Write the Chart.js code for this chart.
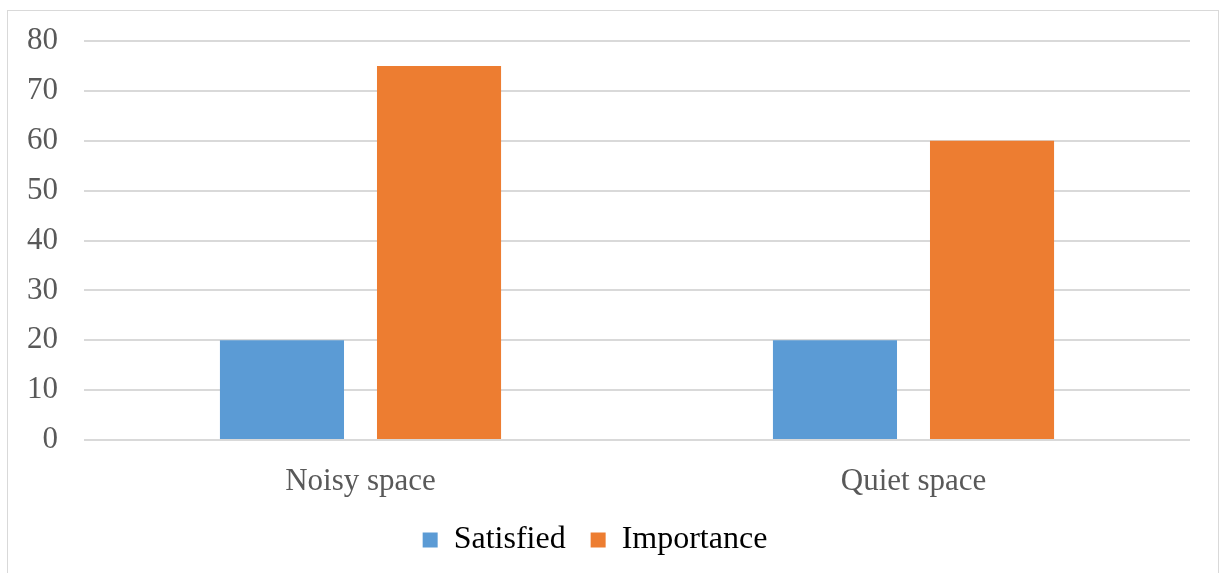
<!DOCTYPE html>
<html>
<head>
<meta charset="utf-8">
<script src="https://cdn.jsdelivr.net/npm/chart.js@4.4.1/dist/chart.umd.min.js"></script>
<style>
  html, body { margin: 0; padding: 0; background: #fff; }
  #wrap { position: relative; width: 1219px; height: 573px; overflow: hidden; }
  #frame { position: absolute; left: 7px; top: 10px; width: 1210px; height: 600px; border: 1px solid #d9d9d9; }
  #chart { position: absolute; left: 0; top: 0; }
</style>
</head>
<body>
<div id="wrap">
  <div id="frame"></div>
  <canvas id="chart" width="1219" height="573"></canvas>
</div>
<script>
const categories = ['Noisy space', 'Quiet space'];
const satisfied = [20, 20];
const importance = [75, 60];
const yTicks = [0, 10, 20, 30, 40, 50, 60, 70, 80];

const serif = '"Liberation Serif", "Times New Roman", serif';

const ctx = document.getElementById('chart').getContext('2d');
new Chart(ctx, {
  type: 'bar',
  data: {
    labels: categories,
    datasets: [
      { label: 'Satisfied', data: satisfied, backgroundColor: '#5B9BD5' },
      { label: 'Importance', data: importance, backgroundColor: '#ED7D31' }
    ]
  },
  options: {
    responsive: false,
    animation: false,
    categoryPercentage: 0.568,
    barPercentage: 0.79,
    layout: { padding: { top: 41, right: 29, left: 0, bottom: 7 } },
    plugins: {
      tooltip: { enabled: false },
      legend: {
        position: 'bottom',
        labels: {
          color: '#000',
          font: { family: serif, size: 32, lineHeight: 1.0 },
          boxWidth: 15,
          boxHeight: 15,
          padding: 25
        }
      }
    },
    scales: {
      x: {
        grid: { display: false },
        border: { display: false },
        afterFit: scale => { scale.height = 59; },
        ticks: {
          color: '#595959',
          font: { family: serif, size: 31 },
          padding: 15
        }
      },
      y: {
        min: 0,
        max: 80,
        afterBuildTicks: scale => { scale.ticks = yTicks.map(v => ({ value: v })); },
        // fixed axis width; top/bottom spacing comes from layout padding only
        afterFit: scale => {
          scale.width = 84;
          scale.paddingTop = 0;
          scale.paddingBottom = 0;
        },
        grid: { color: '#d9d9d9', lineWidth: 2, drawTicks: false },
        border: { display: false },
        ticks: {
          color: '#595959',
          font: { family: serif, size: 31 },
          padding: 26
        }
      }
    }
  }
});
</script>
</body>
</html>
